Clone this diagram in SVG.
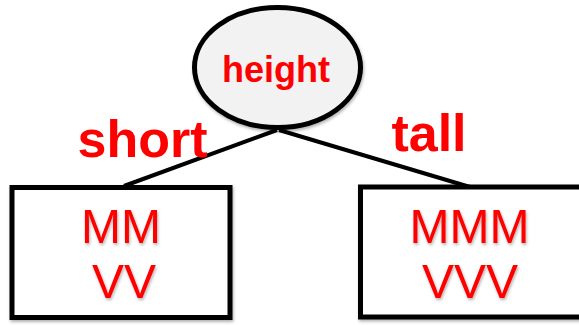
<svg xmlns="http://www.w3.org/2000/svg" width="579" height="325" viewBox="0 0 579 325">
<style>
.lbl{font-family:"Liberation Sans",Arial,sans-serif;fill:#ff0000;text-anchor:middle}
.b{font-weight:bold}
.box{fill:#ffffff;stroke:#000000;stroke-width:5}
.edge{stroke:#000000;stroke-width:4;fill:none}
</style>
<defs>
<filter id="sh" x="-10%" y="-10%" width="130%" height="130%">
<feDropShadow dx="1" dy="2" stdDeviation="1.5" flood-color="#000" flood-opacity="0.3"/>
</filter>
</defs>
<rect width="579" height="325" fill="#ffffff"/>
<g id="connectors">
<line class="edge" x1="277" y1="130" x2="124" y2="186"/>
<line class="edge" x1="279" y1="130" x2="470" y2="187"/>
</g>
<g id="node-height">
<ellipse cx="277.5" cy="67.5" rx="83" ry="60" fill="#f2f2f2" stroke="#000" stroke-width="5" filter="url(#sh)"/>
<text class="lbl b" x="276" y="82" font-size="36">height</text>
</g>
<g id="label-short">
<text class="lbl b" x="142.5" y="157" font-size="52">short</text>
</g>
<g id="label-tall">
<text class="lbl b" x="429" y="151" font-size="52">tall</text>
</g>
<g id="node-short">
<rect class="box" x="12" y="187.5" width="218" height="130" filter="url(#sh)"/>
<text class="lbl" x="121" y="243" font-size="48" filter="url(#sh)">MM</text>
<text class="lbl" x="124" y="298" font-size="48" filter="url(#sh)">VV</text>
</g>
<g id="node-tall">
<rect class="box" x="360.5" y="187" width="230" height="130" filter="url(#sh)"/>
<text class="lbl" x="469.5" y="243" font-size="48" filter="url(#sh)">MMM</text>
<text class="lbl" x="470" y="298" font-size="48" filter="url(#sh)">VVV</text>
</g>
</svg>
